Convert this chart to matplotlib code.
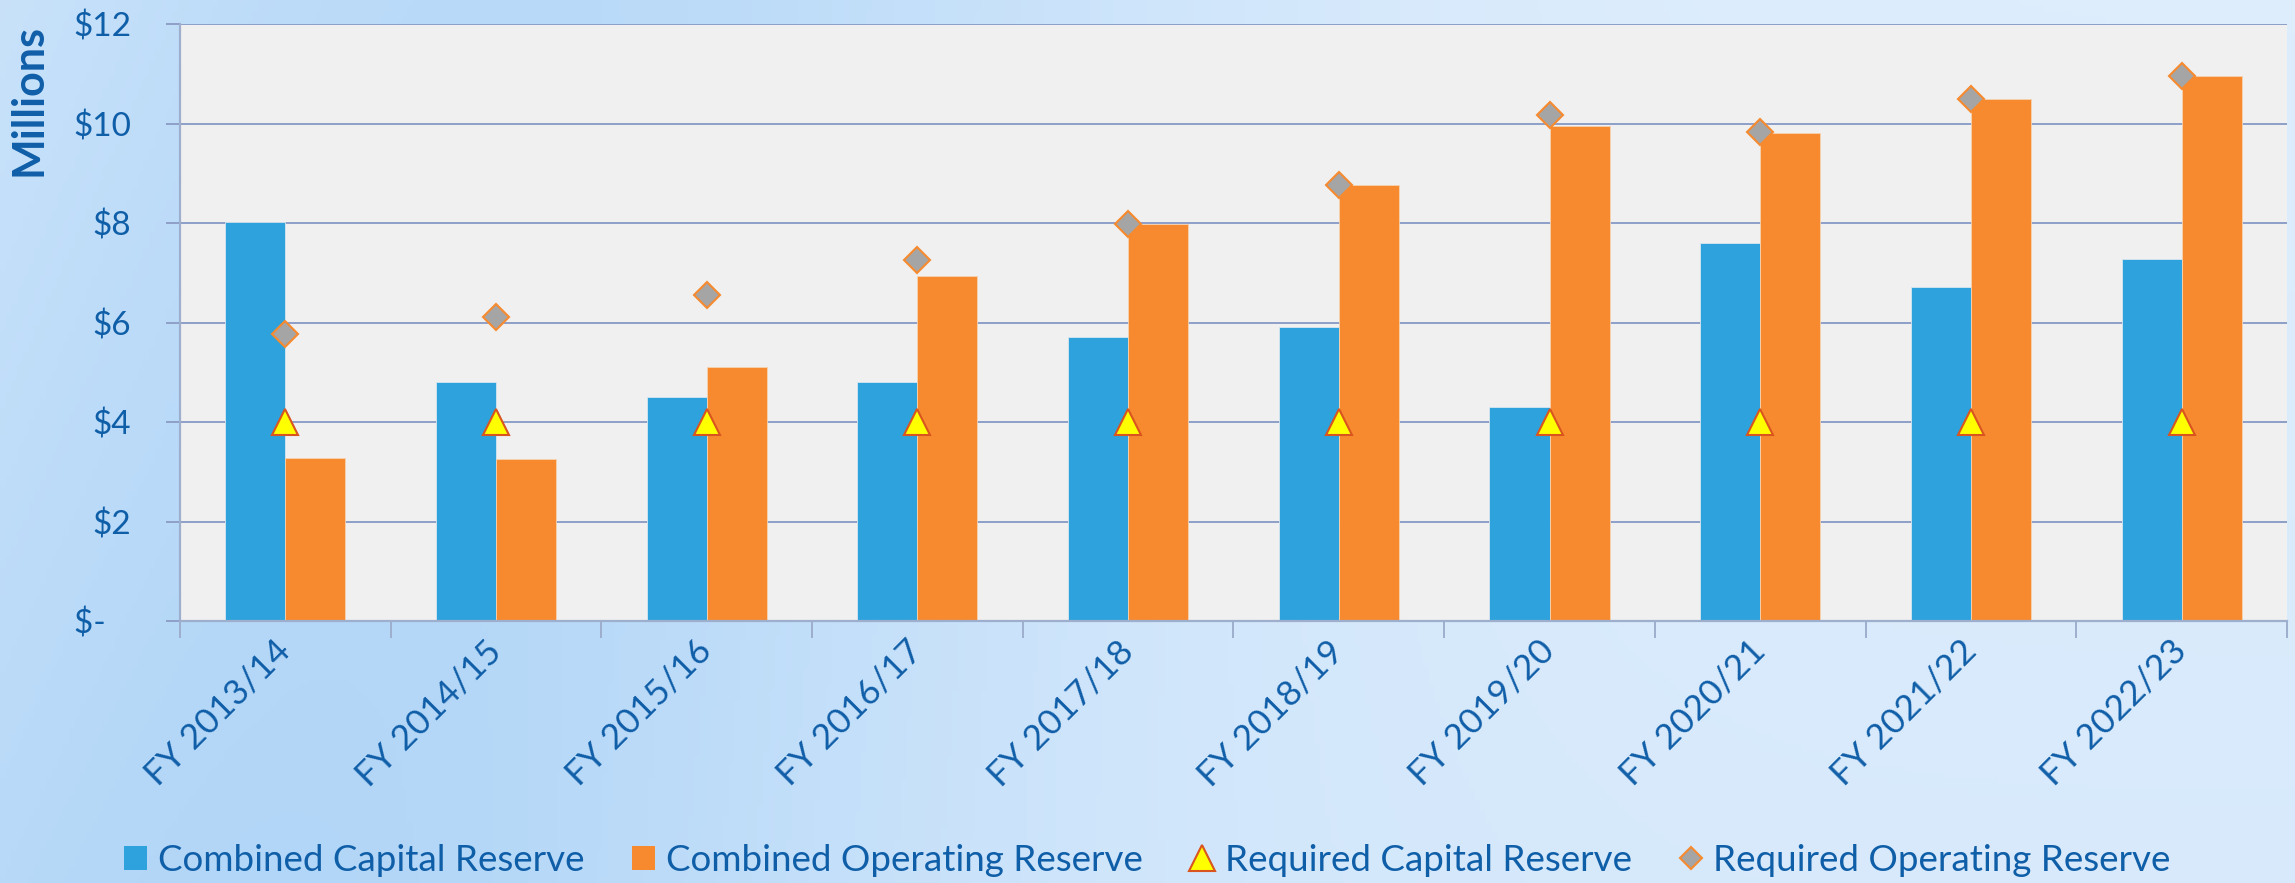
import numpy as np
import matplotlib
matplotlib.use("Agg")
import matplotlib.pyplot as plt
from matplotlib.patches import Patch
from matplotlib.lines import Line2D

years = ["FY 2013/14", "FY 2014/15", "FY 2015/16", "FY 2016/17", "FY 2017/18",
         "FY 2018/19", "FY 2019/20", "FY 2020/21", "FY 2021/22", "FY 2022/23"]
capital_reserve = [8.02, 4.80, 4.50, 4.80, 5.71, 5.92, 4.30, 7.60, 6.71, 7.27]
operating_reserve = [3.28, 3.25, 5.10, 6.94, 7.98, 8.77, 9.95, 9.81, 10.49, 10.95]
required_capital = [4.0, 4.0, 4.0, 4.0, 4.0, 4.0, 4.0, 4.0, 4.0, 4.0]
required_operating = [5.77, 6.11, 6.56, 7.26, 7.99, 8.77, 10.18, 9.83, 10.49, 10.96]
y_ticks = [0, 2, 4, 6, 8, 10, 12]
y_ticklabels = ["$-   ", "$2", "$4", "$6", "$8", "$10", "$12"]

BLUE = "#2EA2DC"
ORANGE = "#F78A2E"
TEXT = "#0F5EA8"
GRID = "#8E9FC8"
SPINE = "#9EAECD"

plt.rcParams["font.family"] = ["Lato", "DejaVu Sans"]

fig = plt.figure(figsize=(22.95, 8.83), dpi=100)

# background gradient
bg = fig.add_axes([0, 0, 1, 1], zorder=-10)
gx, gy = np.meshgrid(np.linspace(0, 1, 400), np.linspace(0, 1, 160))
t = np.exp(-((gx - 0.22 + 0.10 * gy) / 0.30) ** 2) * 0.85 + 0.15 * gy
light = np.array([0.87, 0.93, 0.99])
dark = np.array([0.70, 0.84, 0.97])
img = light[None, None, :] * (1 - t[..., None]) + dark[None, None, :] * t[..., None]
bg.imshow(img, aspect="auto", extent=[0, 1, 0, 1], origin="upper")
bg.axis("off")

ax = fig.add_axes([0.0784, 0.2967, 0.9181, 0.6758])
ax.set_facecolor("#F0F0F0")

x = np.arange(len(years))
w = 0.285
ax.bar(x - w / 2, capital_reserve, w, color=BLUE, edgecolor="#D8E6F0", linewidth=0.6, zorder=2)
ax.bar(x + w / 2, operating_reserve, w, color=ORANGE, edgecolor="#F6D2B0", linewidth=0.6, zorder=2)
ax.plot(x, required_capital, linestyle="none", marker="^", markersize=19,
        markerfacecolor="#FFFF00", markeredgecolor="#D9541E", markeredgewidth=1.5, zorder=4)
ax.plot(x, required_operating, linestyle="none", marker="D", markersize=13.5,
        markerfacecolor="#A5A5A5", markeredgecolor=ORANGE, markeredgewidth=1.5, zorder=4)

ax.set_xlim(-0.5, len(years) - 0.5)
ax.set_ylim(0, 12)

ax.set_yticks(y_ticks)
ax.set_yticklabels(y_ticklabels)
ax.yaxis.grid(True, color=GRID, linewidth=1.4)
ax.set_axisbelow(True)
ax.tick_params(axis="y", length=10, width=1.4, color=GRID, pad=25,
               labelsize=24, labelcolor=TEXT)

ax.set_xticks(x)
ax.set_xticklabels(years)
ax.set_xticks(np.arange(-0.5, len(years)), minor=True)
ax.tick_params(axis="x", which="major", length=0, pad=18, labelsize=25.5, labelcolor=TEXT)
ax.tick_params(axis="x", which="minor", length=12, width=1.4, color=SPINE)
for lbl in ax.get_xticklabels():
    lbl.set_rotation(45)
    lbl.set_ha("right")
    lbl.set_va("center")
    lbl.set_rotation_mode("anchor")

for side in ["top", "right"]:
    ax.spines[side].set_visible(False)
for side in ["left", "bottom"]:
    ax.spines[side].set_color(SPINE)
    ax.spines[side].set_linewidth(1.6)

fig.text(0.0126, 0.887, "Millions", rotation=90, ha="center", va="center",
         fontsize=31, fontweight="bold", color=TEXT)

handles = [
    Patch(facecolor=BLUE, edgecolor="none", label="Combined Capital Reserve"),
    Patch(facecolor=ORANGE, edgecolor="none", label="Combined Operating Reserve"),
    Line2D([], [], linestyle="none", marker="^", markersize=19, markerfacecolor="#FFFF00",
           markeredgecolor="#D9541E", markeredgewidth=1.5, label="Required Capital Reserve"),
    Line2D([], [], linestyle="none", marker="D", markersize=11, markerfacecolor="#A5A5A5",
           markeredgecolor=ORANGE, markeredgewidth=1.5, label="Required Operating Reserve"),
]
leg = fig.legend(handles=handles, loc="center", bbox_to_anchor=(0.5, 0.026), ncol=4,
                 frameon=False, fontsize=26.5, handlelength=0.62, handleheight=0.62,
                 handletextpad=0.3, columnspacing=1.3)
for txt in leg.get_texts():
    txt.set_color(TEXT)

fig.savefig("out.png", dpi=100)
